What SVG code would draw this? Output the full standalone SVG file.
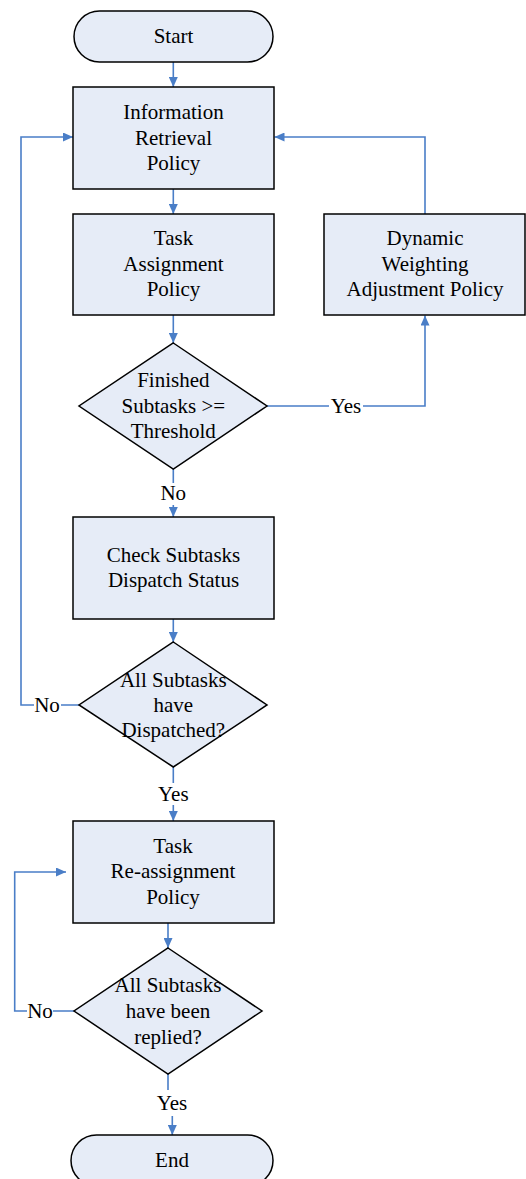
<svg xmlns="http://www.w3.org/2000/svg" width="526" height="1179" viewBox="0 0 526 1179">
<style>
.node{fill:#E6ECF7;stroke:#000;stroke-width:1.5}
.t{font-family:'Liberation Serif','Tinos','Noto Serif','DejaVu Serif','Times New Roman',serif;font-size:21px;fill:#000;text-anchor:middle}
.c{fill:none;stroke:#4A7EC7;stroke-width:1.6}
.lbg{fill:#fff}
</style>
<defs>
<marker id="ah" markerUnits="userSpaceOnUse" markerWidth="10" markerHeight="9" refX="10" refY="4.5" orient="auto">
<path d="M0,0 L10,4.5 L0,9 z" fill="#4A7EC7"/>
</marker>
</defs>
<rect width="526" height="1179" fill="#fff"/>
<g id="connectors">
<path class="c" d="M173.3,62 V87" marker-end="url(#ah)"/>
<path class="c" d="M173.3,189 V214" marker-end="url(#ah)"/>
<path class="c" d="M173.3,315 V343" marker-end="url(#ah)"/>
<path class="c" d="M267,406 H425 V315.5" marker-end="url(#ah)"/>
<path class="c" d="M425,214 V137 H274.5" marker-end="url(#ah)"/>
<path class="c" d="M173.3,469 V517" marker-end="url(#ah)"/>
<path class="c" d="M173.3,619 V642" marker-end="url(#ah)"/>
<path class="c" d="M79,705 H21 V137 H73" marker-end="url(#ah)"/>
<path class="c" d="M173.3,767 V821" marker-end="url(#ah)"/>
<path class="c" d="M168,923 V948" marker-end="url(#ah)"/>
<path class="c" d="M74,1011 H14.7 V872 H66" marker-end="url(#ah)"/>
<path class="c" d="M168,1074 V1098 H172.3 V1135" marker-end="url(#ah)"/>
<rect class="lbg" x="329" y="395" width="34" height="22"/>
<text class="t" x="346" y="412.7">Yes</text>
<rect class="lbg" x="160" y="483" width="27" height="22"/>
<text class="t" x="173.3" y="500">No</text>
<rect class="lbg" x="34" y="694" width="27" height="22"/>
<text class="t" x="47" y="712">No</text>
<rect class="lbg" x="156" y="783" width="34" height="22"/>
<text class="t" x="173.3" y="800.7">Yes</text>
<rect class="lbg" x="27" y="1000" width="26" height="22"/>
<text class="t" x="40" y="1018">No</text>
<rect class="lbg" x="155" y="1090" width="35" height="26"/>
<text class="t" x="172" y="1110">Yes</text>
</g>
<g id="start">
<rect class="node" x="74" y="11" width="199" height="51" rx="25.5"/>
<text class="t" x="173.5" y="42.7">Start</text>
</g>
<g id="info">
<rect class="node" x="73" y="87" width="201" height="102"/>
<text class="t" x="173.5" y="119.3">Information</text>
<text class="t" x="173.5" y="144.7">Retrieval</text>
<text class="t" x="173.5" y="170.2">Policy</text>
</g>
<g id="task">
<rect class="node" x="73" y="214" width="201" height="101"/>
<text class="t" x="173.5" y="245">Task</text>
<text class="t" x="173.5" y="270.5">Assignment</text>
<text class="t" x="173.5" y="296">Policy</text>
</g>
<g id="dynamic">
<rect class="node" x="324" y="214" width="201" height="101"/>
<text class="t" x="425" y="245">Dynamic</text>
<text class="t" x="425" y="270.5">Weighting</text>
<text class="t" x="425" y="296">Adjustment Policy</text>
</g>
<g id="finished">
<polygon class="node" points="173.3,343 267,406 173.3,469 79,406"/>
<text class="t" x="173.3" y="387.3">Finished</text>
<text class="t" x="173.3" y="412.7">Subtasks &gt;=</text>
<text class="t" x="173.3" y="438.3">Threshold</text>
</g>
<g id="check">
<rect class="node" x="73" y="517" width="201" height="102"/>
<text class="t" x="173.5" y="561.7">Check Subtasks</text>
<text class="t" x="173.5" y="587.3">Dispatch Status</text>
</g>
<g id="dispatched">
<polygon class="node" points="173.3,642 267,705 173.3,767 79,705"/>
<text class="t" x="173.3" y="686.7">All Subtasks</text>
<text class="t" x="173.3" y="712">have</text>
<text class="t" x="173.3" y="737">Dispatched?</text>
</g>
<g id="reassign">
<rect class="node" x="73" y="821" width="201" height="102"/>
<text class="t" x="173" y="852.7">Task</text>
<text class="t" x="173" y="878.3">Re-assignment</text>
<text class="t" x="173" y="903.8">Policy</text>
</g>
<g id="replied">
<polygon class="node" points="168,948 262,1011 168,1074 74,1011"/>
<text class="t" x="168" y="991.7">All Subtasks</text>
<text class="t" x="168" y="1018.3">have been</text>
<text class="t" x="168" y="1043.5">replied?</text>
</g>
<g id="end">
<rect class="node" x="71" y="1135" width="202" height="51" rx="25.5"/>
<text class="t" x="172" y="1166.7">End</text>
</g>
</svg>
